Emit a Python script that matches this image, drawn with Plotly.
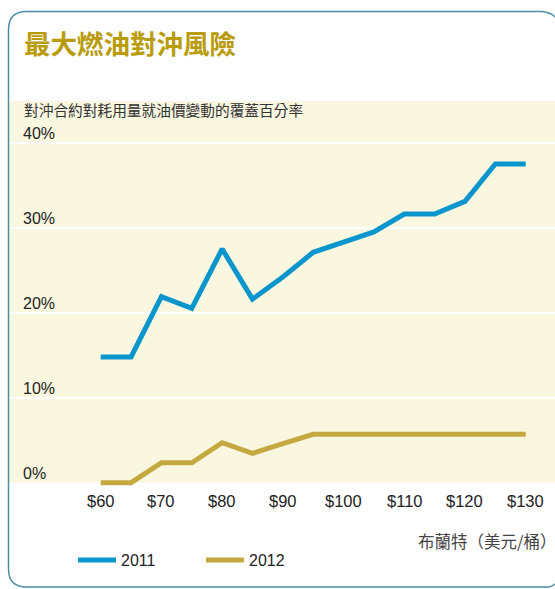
import plotly.graph_objects as go

# ---- data ----
oil_price = [60, 65, 70, 75, 80, 85, 90, 95, 100, 105, 110, 115, 120, 125, 130]
hedge_2011 = [14.8, 14.8, 21.9, 20.5, 27.5, 21.6, 24.2, 27.1, 28.3, 29.5, 31.6, 31.6, 33.1, 37.5, 37.5]
hedge_2012 = [0.0, 0.0, 2.35, 2.35, 4.7, 3.45, 4.6, 5.7, 5.7, 5.7, 5.7, 5.7, 5.7, 5.7, 5.7]
x_tick_vals = [60, 70, 80, 90, 100, 110, 120, 130]
x_tick_text = ["$60", "$70", "$80", "$90", "$100", "$110", "$120", "$130"]
y_tick_vals = [0, 10, 20, 30, 40]
y_tick_text = ["0%", "10%", "20%", "30%", "40%"]
series_names = ["2011", "2012"]

title_text = "最大燃油對沖風險"
subtitle_text = "對沖合約對耗用量就油價變動的覆蓋百分率"
x_title_text = "布蘭特（美元/桶）"

W, H = 555, 589
BLUE = "#0a95cd"
GOLD = "#c3a940"
BORDER = "#4a8ea6"
CJK = "Noto Sans CJK TC, Noto Sans CJK SC, sans-serif"
LAT = "Liberation Sans, Arial, sans-serif"


def px(x):
    return x / W


def py(y):
    return 1 - y / H


fig = go.Figure()
fig.add_trace(go.Scatter(x=oil_price, y=hedge_2011, mode="lines", name=series_names[0],
                         line=dict(color=BLUE, width=5), hoverinfo="skip"))
fig.add_trace(go.Scatter(x=oil_price, y=hedge_2012, mode="lines", name=series_names[1],
                         line=dict(color=GOLD, width=5), hoverinfo="skip"))

plot_top, plot_bot = 101, 495
y_zero_px, px_per_pct = 482.7, 8.5
y_max = (y_zero_px - plot_top) / px_per_pct
y_min = (y_zero_px - plot_bot) / px_per_pct
x_left_px, x_right_px = 10, 555
x_60_px, px_per_usd = 100.7, 425.0 / 70
x_min = 60 - (x_60_px - x_left_px) / px_per_usd
x_max = 60 + (x_right_px - x_60_px) / px_per_usd

fig.update_layout(
    width=W, height=H,
    margin=dict(l=0, r=0, t=0, b=0),
    paper_bgcolor="white",
    plot_bgcolor="rgba(0,0,0,0)",
    showlegend=True,
    legend=dict(orientation="h", x=px(73), xanchor="left", y=py(560), yanchor="middle",
                entrywidth=75, entrywidthmode="pixels", itemwidth=38,
                font=dict(family=LAT, size=16, color="#222"),
                bgcolor="rgba(0,0,0,0)"),
    xaxis=dict(domain=[px(x_left_px), 1], range=[x_min, x_max], showgrid=False,
               zeroline=False, showticklabels=False, showline=False, fixedrange=True),
    yaxis=dict(domain=[py(plot_bot), py(plot_top)], range=[y_min, y_max],
               tickvals=[v for v in y_tick_vals if v > 0], showgrid=True,
               gridcolor="white", gridwidth=2, zeroline=False, showticklabels=False,
               showline=False, fixedrange=True),
)

# shaded background
fig.add_shape(type="rect", xref="paper", yref="y", x0=px(9), x1=1, y0=0, y1=y_max,
              fillcolor="#faf7e1", line=dict(width=0), layer="below")

# rounded border: open path (left side + top-left/bottom-left corners, right corners run off-page)
L, T, B, r = 8.5, 11.5, 587, 18
Rt, Rb = 540, 548  # where the right-hand corners start to curve
path = (f"M {px(Rb + 14)},{py(B - 10)} Q {px(Rb + 6)},{py(B)} {px(Rb)},{py(B)} "
        f"L {px(L + r)},{py(B)} Q {px(L)},{py(B)} {px(L)},{py(B - r)} "
        f"L {px(L)},{py(T + r)} Q {px(L)},{py(T)} {px(L + r)},{py(T)} "
        f"L {px(Rt)},{py(T)} Q {px(Rt + 14)},{py(T)} {px(Rt + 20)},{py(T + 12)}")
fig.add_shape(type="path", xref="paper", yref="paper", path=path,
              line=dict(color=BORDER, width=1.5), layer="above")

# title / subtitle / x title
fig.add_annotation(text=f"<b>{title_text}</b>", xref="paper", yref="paper", x=px(22), y=py(42),
                   xanchor="left", yanchor="middle", showarrow=False,
                   font=dict(family=CJK, size=26.5, color="#b89c0c"))
fig.add_annotation(text=subtitle_text, xref="paper", yref="paper", x=px(22), y=py(110),
                   xanchor="left", yanchor="middle", showarrow=False,
                   font=dict(family=CJK, size=14.7, color="#333"))
fig.add_annotation(text=x_title_text, xref="paper", yref="paper", x=px(558), y=py(541),
                   xanchor="right", yanchor="middle", showarrow=False,
                   font=dict(family=CJK, size=16.5, color="#444"))

# y tick labels (above gridlines)
for v, t in zip(y_tick_vals, y_tick_text):
    fig.add_annotation(text=t, xref="paper", yref="y", x=px(21), y=v, yshift=9,
                       xanchor="left", yanchor="middle", showarrow=False,
                       font=dict(family=LAT, size=16, color="#222"))

# x tick labels
for v, t in zip(x_tick_vals, x_tick_text):
    fig.add_annotation(text=t, xref="x", yref="y", x=v, y=0, yshift=-18.5,
                       xanchor="center", yanchor="middle", showarrow=False,
                       font=dict(family=LAT, size=16.5, color="#222"))

fig.write_html("out.html", config={"displayModeBar": False},
               post_script="document.body.style.margin='0';document.body.style.overflow='hidden';")
